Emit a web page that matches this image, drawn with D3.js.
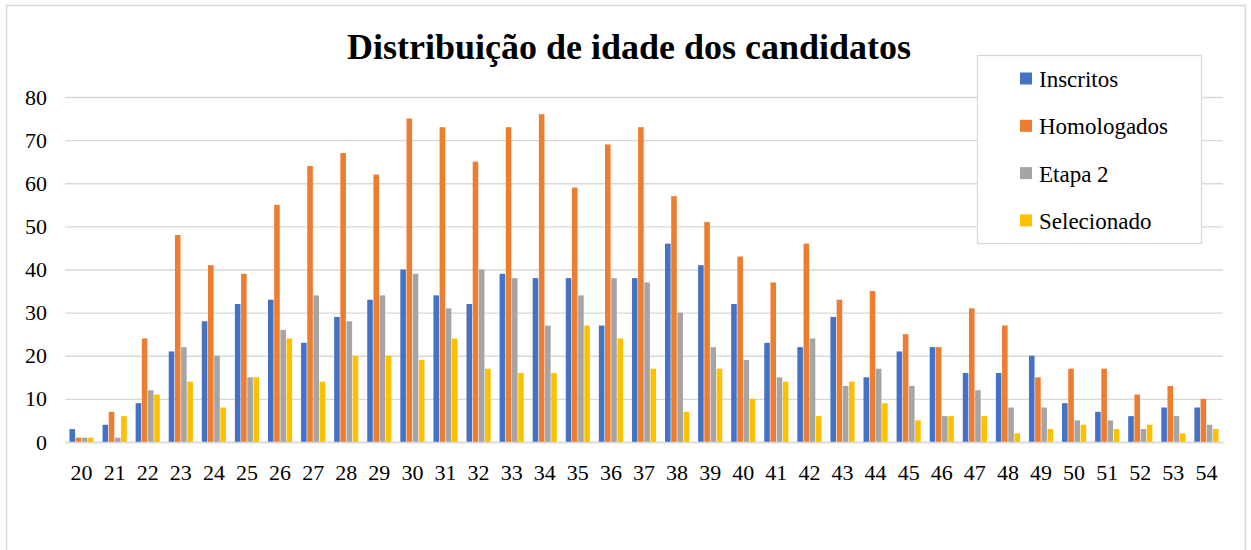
<!DOCTYPE html>
<html>
<head>
<meta charset="utf-8">
<script src="https://cdn.jsdelivr.net/npm/d3@7"></script>
<style>
  body { margin: 0; background: #fff; }
  svg { display: block; }
</style>
</head>
<body>
<div id="chart"></div>
<script>
// ages on the x axis
const ages = ["20","21","22","23","24","25","26","27","28","29","30","31","32","33","34","35","36","37",
              "38","39","40","41","42","43","44","45","46","47","48","49","50","51","52","53","54"];
const seriesNames = ["Inscritos", "Homologados", "Etapa 2", "Selecionado"];
const inscritos   = [3, 4, 9, 21, 28, 32, 33, 23, 29, 33, 40, 34, 32, 39, 38, 38, 27, 38,
                     46, 41, 32, 23, 22, 29, 15, 21, 22, 16, 16, 20, 9, 7, 6, 8, 8];
const homologados = [1, 7, 24, 48, 41, 39, 55, 64, 67, 62, 75, 73, 65, 73, 76, 59, 69, 73,
                     57, 51, 43, 37, 46, 33, 35, 25, 22, 31, 27, 15, 17, 17, 11, 13, 10];
const etapa2      = [1, 1, 12, 22, 20, 15, 26, 34, 28, 34, 39, 31, 40, 38, 27, 34, 38, 37,
                     30, 22, 19, 15, 24, 13, 17, 13, 6, 12, 8, 8, 5, 5, 3, 6, 4];
const selecionado = [1, 6, 11, 14, 8, 15, 24, 14, 20, 20, 19, 24, 17, 16, 16, 27, 24, 17,
                     7, 17, 10, 14, 6, 14, 9, 5, 6, 6, 2, 3, 4, 3, 4, 2, 3];
const yTicks = [0, 10, 20, 30, 40, 50, 60, 70, 80];
const colors = ["#4472C4", "#ED7D31", "#A5A5A5", "#FFC000"];

const FONT = "'Liberation Serif', 'Times New Roman', serif";
const allSeries = [inscritos, homologados, etapa2, selecionado];
const rows = ages.map((a, i) => ({ age: a, values: allSeries.map((s, k) => ({ key: seriesNames[k], value: s[i] })) }));

const W = 1251, H = 550;
const svg = d3.select("#chart").append("svg").attr("width", W).attr("height", H)
    .style("font-family", FONT);

// chart frame
svg.append("rect").attr("x", 6.5).attr("y", 5.5).attr("width", 1239).attr("height", 560)
    .attr("fill", "#fff").attr("stroke", "#d9d9d9").attr("stroke-width", 1.5);

const plotLeft = 65, plotRight = 1223, plotTop = 97, plotBottom = 442;

const x0 = d3.scaleBand().domain(ages).range([plotLeft, plotRight]).paddingInner(0.27).paddingOuter(0.135);
const x1 = d3.scaleBand().domain(seriesNames).range([0, x0.bandwidth()]).paddingInner(0.1);
const y = d3.scaleLinear().domain([0, 80]).range([plotBottom, plotTop]);
const color = d3.scaleOrdinal().domain(seriesNames).range(colors);

// gridlines + y labels
const yAxis = svg.append("g").attr("transform", `translate(${plotLeft},0)`)
    .call(d3.axisLeft(y).tickValues(yTicks).tickSize(-(plotRight - plotLeft)).tickPadding(18));
yAxis.select(".domain").remove();
yAxis.selectAll(".tick line").attr("stroke", "#d9d9d9").attr("stroke-width", 1.3);
yAxis.selectAll(".tick text").attr("fill", "#000")
    .style("font-size", "22px").style("font-family", FONT);

// bars
const groups = svg.append("g").selectAll("g").data(rows).join("g")
    .attr("transform", d => `translate(${x0(d.age)},0)`);
groups.selectAll("rect").data(d => d.values).join("rect")
    .attr("x", d => x1(d.key))
    .attr("y", d => y(d.value))
    .attr("width", x1.bandwidth())
    .attr("height", d => y(0) - y(d.value))
    .attr("fill", d => color(d.key));

// x axis
const xAxis = svg.append("g").attr("transform", `translate(0,${plotBottom})`)
    .call(d3.axisBottom(x0).tickSize(0).tickPadding(22));
xAxis.select(".domain").attr("stroke", "#d9d9d9").attr("stroke-width", 1.5);
xAxis.selectAll(".tick text").attr("fill", "#000")
    .style("font-size", "22px").style("font-family", FONT);

// title
svg.append("text").attr("x", 629).attr("y", 59).attr("text-anchor", "middle")
    .attr("font-weight", "bold").attr("fill", "#000")
    .style("font-size", "36px").style("font-family", FONT)
    .text("Distribuição de idade dos candidatos");

// legend
const legend = svg.append("g");
legend.append("rect").attr("x", 977.5).attr("y", 55.5).attr("width", 224).attr("height", 188)
    .attr("fill", "#fff").attr("stroke", "#d9d9d9").attr("stroke-width", 1.3);
const items = legend.selectAll("g.item").data(seriesNames).join("g").attr("class", "item")
    .attr("transform", (d, i) => `translate(1020,${78.5 + i * 47.3})`);
items.append("rect").attr("x", 0).attr("y", -6).attr("width", 12).attr("height", 12)
    .attr("fill", d => color(d));
items.append("text").attr("x", 19).attr("y", 8.5).attr("fill", "#000")
    .style("font-size", "23px").style("font-family", FONT)
    .text(d => d);
</script>
</body>
</html>
